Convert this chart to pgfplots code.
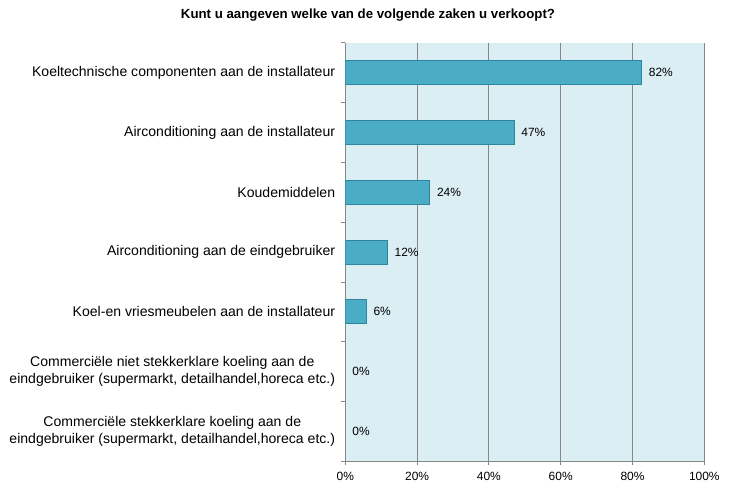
\documentclass[border=0pt]{standalone}
\usepackage{pgfplots}
\pgfplotsset{compat=1.18}
\usepackage{fontspec}
\setmainfont{Liberation Sans}
\definecolor{bg}{HTML}{DBEEF4}
\definecolor{barfill}{HTML}{4BACC6}
\definecolor{barline}{HTML}{2E869E}
\definecolor{gridc}{HTML}{868686}
\begin{document}
\begin{tikzpicture}
\useasboundingbox (-345.3bp,-29.7bp) rectangle (389.7bp,461.3bp);
\begin{axis}[
  at={(0,0)}, anchor=south west,
  scale only axis, width=359bp, height=418.6bp,
  xmin=0, xmax=100, ymin=-0.5, ymax=6.5, y dir=reverse,
  axis x line*=bottom, axis y line*=left,
  axis line style={gridc, line width=0.8bp, -},
  axis background/.style={fill=bg},
  xtick={0,20,...,100},
  xticklabel={\pgfmathprintnumber{\tick}\%},
  xmajorgrids, major grid style={gridc, line width=0.8bp},
  tick style={gridc, line width=0.8bp},
  tick align=outside, major tick length=4bp, minor tick length=4bp,
  ytick={0,...,6},
  major y tick style={draw=none},
  minor ytick={-0.5,0.5,...,6.5},
  yticklabels={
    {Koeltechnische componenten aan de installateur},
    {Airconditioning aan de installateur},
    {Koudemiddelen},
    {Airconditioning aan de eindgebruiker},
    {Koel-en vriesmeubelen aan de installateur},
    {Commerciële niet stekkerklare koeling aan de\\eindgebruiker (supermarkt, detailhandel,horeca etc.)},
    {Commerciële stekkerklare koeling aan de\\eindgebruiker (supermarkt, detailhandel,horeca etc.)}},
  yticklabel style={font=\fontsize{14.1}{17}\selectfont, align=center, inner sep=0pt, anchor=east, xshift=-6bp},
  xticklabel style={font=\fontsize{12}{14}\selectfont, inner sep=0pt, anchor=north, yshift=-7bp},
  /pgf/number format/assume math mode=true,
]
\addplot[xbar, bar width=24bp, bar shift=0pt, fill=barfill, draw=barline, line width=0.8bp,
  point meta=explicit symbolic,
  nodes near coords={\pgfplotspointmeta\%},
  nodes near coords style={anchor=west, inner sep=0pt, xshift=7bp, text=black, font=\fontsize{12}{14}\selectfont}]
  table[x=v, y=i, meta=l] {
v i l
82.5 0 82
47 1 47
23.5 2 24
11.7 3 12
5.8 4 6
};
\addplot[xbar, bar width=24bp, bar shift=0pt, fill=none, draw=none,
  point meta=explicit symbolic,
  nodes near coords={\pgfplotspointmeta\%},
  nodes near coords style={anchor=west, inner sep=0pt, xshift=7bp, text=black, font=\fontsize{12}{14}\selectfont}]
  table[x=v, y=i, meta=l] {
v i l
0 5 0
0 6 0
};
\end{axis}
\node[font=\bfseries\fontsize{13.3}{16}\selectfont] at (22.7bp,446.3bp) {Kunt u aangeven welke van de volgende zaken u verkoopt?};
\end{tikzpicture}
\end{document}
